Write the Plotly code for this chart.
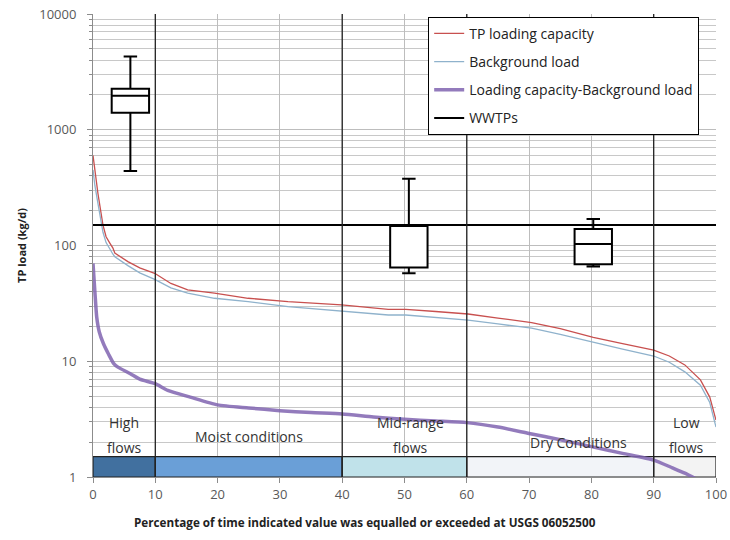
import plotly.graph_objects as go

# ---- data ----
pct = [0, 0.3, 0.8, 1.6, 2.1, 2.7, 3.2, 3.5, 4.5, 5.6, 7.5, 9.9, 12.5, 15.2, 19.5, 24.9, 31.3, 39.9, 47.4,
       50.2, 55, 60.2, 65, 70.4, 75, 80.3, 85, 90, 92.5, 95, 97.5, 99, 100]
tp_capacity = [600, 450, 280, 150, 119, 105, 95, 86, 79, 72.6, 64, 57.5, 47, 41.3, 38.7, 35, 32.7, 30.7, 28.1,
               28.1, 26.9, 25.6, 23.6, 21.6, 19.1, 16.1, 14.2, 12.5, 11.1, 9.3, 6.9, 4.9, 3.1]
background = [450, 330, 230, 130, 106, 92, 84, 80, 73, 67, 58, 51, 43, 38.7, 35, 32.7, 29.6, 27.2, 25.1,
              25.1, 24.0, 22.7, 21.0, 19.3, 17.1, 14.5, 12.7, 11.1, 9.8, 8.1, 6.2, 4.4, 2.7]

pct_diff = [0, 0.3, 0.6, 1.0, 1.65, 2.5, 3.3, 4, 6, 7.5, 10, 12, 15.6, 20, 25, 30, 35, 40, 45, 50, 55, 60,
            65, 70, 75, 80, 85, 90, 93, 95, 97]
cap_minus_bg = [70, 40, 24, 18, 14.3, 11.5, 9.6, 8.9, 7.8, 7.0, 6.4, 5.6, 4.9, 4.2, 3.95, 3.74, 3.6, 3.5,
                3.3, 3.15, 3.05, 2.95, 2.7, 2.38, 2.1, 1.83, 1.6, 1.40, 1.2, 1.08, 0.95]

wwtp_level = 150

box_x = [6, 50.7, 80.3]
box_low = [440, 57.6, 65.7]
box_q1 = [1400, 64.4, 68.9]
box_med = [1963, 149, 103]
box_q3 = [2257, 150.7, 139]
box_high = [4300, 377, 169]

zone_names = ["High<br>flows", "Moist conditions", "Mid-range<br>flows", "Dry Conditions", "Low<br>flows"]
zone_start = [0, 10, 40, 60, 90]
zone_end = [10, 40, 60, 90, 100]
zone_colors = ["#41709f", "#6a9fd7", "#c0e2ea", "#f2f4f8", "#f3f3f3"]

x_ticks = [0, 10, 20, 30, 40, 50, 60, 70, 80, 90, 100]
y_ticks = [1, 10, 100, 1000, 10000]

FONT = "Open Sans"
fig = go.Figure()

# zone bars at bottom
fig.add_trace(go.Bar(
    x=[(a + b) / 2 for a, b in zip(zone_start, zone_end)],
    width=[b - a for a, b in zip(zone_start, zone_end)],
    y=[0.5] * len(zone_start), base=[1] * len(zone_start),
    marker=dict(color=zone_colors, line=dict(color="#222222", width=1.2)),
    showlegend=False, hoverinfo="skip"))

fig.add_trace(go.Scatter(x=pct, y=tp_capacity, mode="lines", name="TP loading capacity",
                         line=dict(color="#c8504f", width=1.3), legendgroup="a"))
fig.add_trace(go.Scatter(x=pct, y=background, mode="lines", name="Background load",
                         line=dict(color="#8fb2cc", width=1.3), legendgroup="b"))
fig.add_trace(go.Scatter(x=pct_diff, y=cap_minus_bg, mode="lines", name="Loading capacity-Background load",
                         line=dict(color="rgba(128,100,176,0.85)", width=3.5, shape="spline", smoothing=0.6),
                         legendgroup="c"))
fig.add_trace(go.Scatter(x=[0, 100], y=[wwtp_level, wwtp_level], mode="lines", name="WWTPs",
                         line=dict(color="black", width=2), legendgroup="d"))

fig.add_trace(go.Box(x=box_x, q1=box_q1, median=box_med, q3=box_q3, lowerfence=box_low,
                     upperfence=box_high, width=6, whiskerwidth=0.36, fillcolor="white",
                     line=dict(color="black", width=2), showlegend=False, hoverinfo="skip",
                     boxpoints=False))

# zone boundaries
shapes = []
for b in zone_end[:-1]:
    shapes.append(dict(type="line", xref="x", yref="paper", x0=b, x1=b, y0=0, y1=1,
                       line=dict(color="#222222", width=1.3), layer="above"))
fig.update_layout(shapes=shapes)

label_lines = []
for name, a, b in zip(zone_names, zone_start, zone_end):
    cx = (a + b) / 2
    if name == "Mid-range<br>flows":
        cx = 51
    if name == "Dry Conditions":
        cx = 78
    if name == "Low<br>flows":
        cx = 95.3
    parts = name.split("<br>")
    if len(parts) == 2:
        label_lines.append((parts[0], cx, 0.467))
        label_lines.append((parts[1], cx, 0.259))
    else:
        label_lines.append((parts[0], cx, 0.346 if a == 10 else 0.294))
for t, cx, ly in label_lines:
    fig.add_annotation(x=cx, y=ly, xref="x", yref="y", text=t, showarrow=False,
                       font=dict(family=FONT, size=14, color="#333333"))

# x-axis title centred on the whole figure, like the reference
fig.add_annotation(x=0.4366, y=-0.097, xref="paper", yref="paper", xanchor="center", yanchor="middle",
                   text="<b>Percentage of time indicated value was equalled or exceeded at USGS 06052500</b>",
                   showarrow=False, font=dict(family=FONT, size=11.7, color="#222222"))

fig.update_layout(
    width=730, height=540,
    margin=dict(l=93, r=14, t=14, b=63),
    paper_bgcolor="white", plot_bgcolor="white",
    font=dict(family=FONT, color="#333333"),
    barmode="overlay",
    legend=dict(x=0.538, y=0.994, xanchor="left", yanchor="top", bgcolor="white",
                bordercolor="black", borderwidth=1, tracegroupgap=7,
                font=dict(family=FONT, size=14, color="#222222"), traceorder="grouped"),
    xaxis=dict(range=[0, 100], tickvals=x_ticks, showgrid=True, gridcolor="#bdbdbd", gridwidth=1,
               showline=True, linecolor="#8c8c8c", ticks="outside", ticklen=5, tickcolor="#8c8c8c",
               tickfont=dict(family=FONT, size=13, color="#595959"), zeroline=False, automargin=False),
    yaxis=dict(type="log", range=[0, 4], tickvals=y_ticks, ticktext=[str(v) for v in y_ticks],
               showgrid=True, gridcolor="#bdbdbd", gridwidth=1, automargin=False,
               minor=dict(tickvals=[m * 10 ** d for d in range(4) for m in range(2, 10)],
                          showgrid=True, gridcolor="#c8c8c8", ticks="outside", ticklen=3,
                          tickcolor="#8c8c8c"),
               showline=True, linecolor="#8c8c8c", ticks="outside", ticklen=5, tickcolor="#8c8c8c",
               tickfont=dict(family=FONT, size=13, color="#595959"), ticklabelstandoff=8,
               title=dict(text="<b>TP load (kg/d)</b>", font=dict(family=FONT, size=11, color="#222222"),
                          standoff=10)),
)

fig.write_html("out.html")
